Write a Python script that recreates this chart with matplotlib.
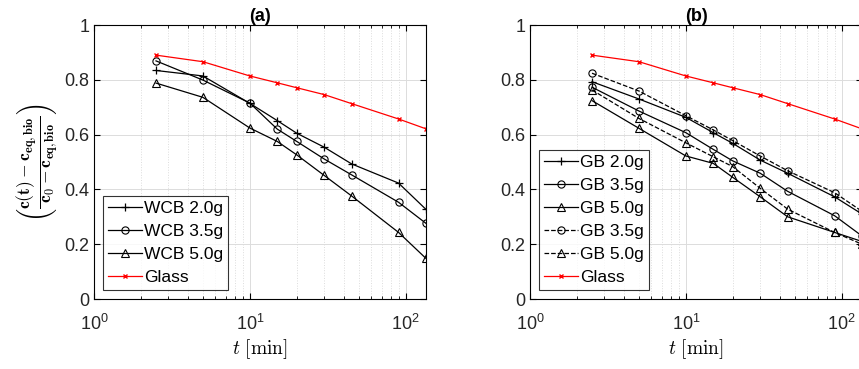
import matplotlib
matplotlib.use("Agg")
import matplotlib.pyplot as plt
from matplotlib.ticker import LogLocator, NullFormatter

plt.rcParams['font.family'] = ['Liberation Sans', 'DejaVu Sans']
plt.rcParams['mathtext.fontset'] = 'cm'

t = [2.5, 5, 10, 15, 20, 30, 45, 90, 135]

glass = [0.890, 0.866, 0.814, 0.789, 0.771, 0.746, 0.713, 0.657, 0.621]

wcb_20 = [0.834, 0.814, 0.714, 0.651, 0.605, 0.554, 0.493, 0.423, 0.327]
wcb_35 = [0.869, 0.799, 0.715, 0.620, 0.575, 0.511, 0.453, 0.353, 0.276]
wcb_50 = [0.788, 0.736, 0.624, 0.575, 0.526, 0.451, 0.376, 0.243, 0.148]

gb_20 = [0.793, 0.730, 0.663, 0.607, 0.568, 0.507, 0.459, 0.373, 0.310]
gb_35 = [0.773, 0.686, 0.607, 0.546, 0.504, 0.459, 0.393, 0.304, 0.230]
gb_50 = [0.724, 0.623, 0.522, 0.495, 0.444, 0.373, 0.300, 0.243, 0.210]
gb_35b = [0.824, 0.759, 0.669, 0.617, 0.578, 0.522, 0.468, 0.388, 0.320]
gb_50b = [0.763, 0.659, 0.570, 0.519, 0.483, 0.404, 0.328, 0.243, 0.200]

yticks = [0, 0.2, 0.4, 0.6, 0.8, 1.0]
ytick_labels = ['0', '0.2', '0.4', '0.6', '0.8', '1']

fig = plt.figure(figsize=(8.59, 3.69), dpi=100)
axw = 332 / 859
bot = 70 / 369
hgt = 274 / 369
ax1 = fig.add_axes([94 / 859, bot, axw, hgt])
ax2 = fig.add_axes([530 / 859, bot, axw, hgt])

lw = 0.9
ms = 5.2
kw_open = dict(markerfacecolor='none', markeredgecolor='k', markeredgewidth=0.8)
leg_kw = dict(loc='lower left', fontsize=12.5, frameon=True, fancybox=False, edgecolor='k',
              borderpad=0.28, labelspacing=0.46, handlelength=2.0, handletextpad=0.1,
              borderaxespad=0.5)

def style(ax, title):
    ax.set_xscale('log')
    ax.set_xlim(1, 135)
    ax.set_ylim(0, 1)
    ax.set_yticks(yticks)
    ax.set_yticklabels(ytick_labels)
    ax.xaxis.set_major_locator(LogLocator(base=10, numticks=10))
    ax.xaxis.set_minor_locator(LogLocator(base=10, subs=range(2, 10), numticks=10))
    ax.xaxis.set_minor_formatter(NullFormatter())
    ax.grid(True, which='major', color='#dcdcdc', linewidth=0.7)
    ax.grid(True, which='minor', axis='x', color='#dcdcdc', linestyle=':', linewidth=0.7)
    ax.set_axisbelow(True)
    ax.tick_params(which='both', direction='in', top=True, right=True, labelsize=13,
                   colors='k', labelcolor='#262626')
    ax.tick_params(which='major', length=4)
    ax.tick_params(which='minor', length=2)
    ax.tick_params(axis='x', which='major', pad=11)
    for s in ax.spines.values():
        s.set_linewidth(0.8)
    ax.set_title(title, fontsize=13, fontweight='bold', pad=1)
    ax.set_xlabel(r'$t\ [\mathrm{min}]$', fontsize=14, labelpad=2)

ax1.plot(t, wcb_20, 'k-', marker='+', ms=ms + 1, lw=lw, label='WCB 2.0g', markeredgewidth=0.9)
ax1.plot(t, wcb_35, 'k-', marker='o', ms=ms, lw=lw, label='WCB 3.5g', **kw_open)
ax1.plot(t, wcb_50, 'k-', marker='^', ms=ms, lw=lw, label='WCB 5.0g', **kw_open)
ax1.plot(t, glass, '-', color='#ff0000', marker='x', ms=3.5, lw=lw, label='Glass')
style(ax1, '(a)')
ax1.set_ylabel(r'$\left(\frac{\mathbf{c(t)}-\mathbf{c}_{\mathbf{eq,bio}}}{\mathbf{c}_{\mathbf{0}}-\mathbf{c}_{\mathbf{eq,bio}}}\right)$',
               fontsize=18, labelpad=2)
leg1 = ax1.legend(**leg_kw)
leg1.get_frame().set_linewidth(0.8)

ax2.plot(t, gb_20, 'k-', marker='+', ms=ms + 1, lw=lw, label='GB 2.0g', markeredgewidth=0.9)
ax2.plot(t, gb_35, 'k-', marker='o', ms=ms, lw=lw, label='GB 3.5g', **kw_open)
ax2.plot(t, gb_50, 'k-', marker='^', ms=ms, lw=lw, label='GB 5.0g', **kw_open)
ax2.plot(t, gb_35b, 'k--', marker='o', ms=ms, lw=lw, label='GB 3.5g', **kw_open)
ax2.plot(t, gb_50b, 'k--', marker='^', ms=ms, lw=lw, label='GB 5.0g', **kw_open)
ax2.plot(t, glass, '-', color='#ff0000', marker='x', ms=3.5, lw=lw, label='Glass')
style(ax2, '(b)')
leg2 = ax2.legend(**leg_kw)
leg2.get_frame().set_linewidth(0.8)

fig.savefig('out.png', dpi=100)
